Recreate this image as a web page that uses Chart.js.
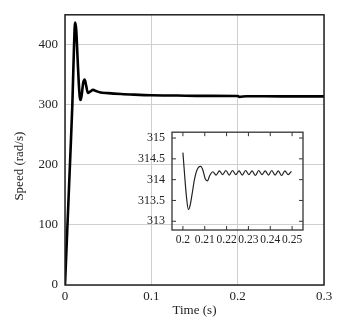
<!DOCTYPE html>
<html>
<head>
<meta charset="utf-8">
<script src="https://cdn.jsdelivr.net/npm/chart.js@4.4.1/dist/chart.umd.min.js"></script>
<style>
  html, body { margin: 0; padding: 0; background: #fff; }
  #wrap { position: relative; width: 349px; height: 322px; }
  #mainChart { position: absolute; left: 0; top: 0; }
  #insetChart { position: absolute; left: 130px; top: 118px; }
</style>
</head>
<body>
<div id="wrap">
  <canvas id="mainChart" width="349" height="322"></canvas>
  <canvas id="insetChart" width="180" height="136"></canvas>
</div>
<script>
// main curve: speed vs time
const timeS = [0, 0.003, 0.006, 0.0085, 0.0105, 0.0117, 0.013, 0.0145, 0.016, 0.0172, 0.0182, 0.0195,
  0.021, 0.0228, 0.0245, 0.0265, 0.029, 0.0325, 0.036, 0.04, 0.05, 0.065, 0.08, 0.1, 0.13, 0.16,
  0.199, 0.2, 0.202, 0.21, 0.25, 0.3];
const speed = [0, 105, 210, 300, 400, 437, 425, 380, 335, 312, 308, 318,
  336, 342, 332, 320, 322, 325, 323, 321, 319.5, 318, 317, 316, 315.5, 315,
  314.8, 314.6, 313.3, 314.3, 314.2, 314.2];

// zoomed inset 0.2 .. 0.25 s
const insetTime = [0.2, 0.2008, 0.2016, 0.2025, 0.2033, 0.2042, 0.2052, 0.2062, 0.2072, 0.2082,
  0.2092, 0.2102, 0.2112, 0.2123, 0.2137, 0.2152, 0.2167, 0.2182, 0.2197, 0.2212, 0.2227,
  0.2242, 0.2257, 0.2272, 0.2287, 0.2302, 0.2317, 0.2332, 0.2347, 0.2362, 0.2377, 0.2392,
  0.2407, 0.2422, 0.2437, 0.2452, 0.2467, 0.2482, 0.2497];
const insetSpeed = [314.65, 314.1, 313.6, 313.28, 313.38, 313.65, 313.98, 314.2, 314.3, 314.32,
  314.22, 314.02, 313.97, 314.1, 314.19, 314.11, 314.21, 314.12, 314.22, 314.11, 314.22,
  314.12, 314.21, 314.11, 314.22, 314.12, 314.21, 314.10, 314.22, 314.12, 314.21, 314.11,
  314.22, 314.11, 314.21, 314.10, 314.21, 314.12, 314.2];

// tick labels
const xTicks = [0, 0.1, 0.2, 0.3];
const yTicks = [0, 100, 200, 300, 400];
const insetXTicks = [0.2, 0.21, 0.22, 0.23, 0.24, 0.25];
const insetYTicks = [313, 313.5, 314, 314.5, 315];

const serif = 'Liberation Serif';

const toPoints = (xs, ys) => xs.map((x, i) => ({ x: x, y: ys[i] }));
const setTicks = vals => s => { s.ticks = vals.map(v => ({ value: v })); };

// frame round the plot area
const framePlugin = {
  id: 'frame',
  afterDraw(chart, args, opts) {
    const a = chart.chartArea, ctx = chart.ctx;
    ctx.save();
    ctx.strokeStyle = opts.color;
    ctx.lineWidth = opts.width;
    ctx.strokeRect(a.left, a.top, a.right - a.left, a.bottom - a.top);
    if (opts.tickLen) {
      // inward ticks on all four sides
      const xs = chart.scales.x, ys = chart.scales.y, t = opts.tickLen;
      ctx.lineWidth = 1;
      ctx.beginPath();
      xs.ticks.forEach(tk => {
        const px = xs.getPixelForValue(tk.value);
        ctx.moveTo(px, a.bottom); ctx.lineTo(px, a.bottom - t);
        ctx.moveTo(px, a.top); ctx.lineTo(px, a.top + t);
      });
      ys.ticks.forEach(tk => {
        const py = ys.getPixelForValue(tk.value);
        ctx.moveTo(a.left, py); ctx.lineTo(a.left + t, py);
        ctx.moveTo(a.right, py); ctx.lineTo(a.right - t, py);
      });
      ctx.stroke();
    }
    ctx.restore();
  }
};

new Chart(document.getElementById('mainChart'), {
  type: 'line',
  data: {
    datasets: [{
      data: toPoints(timeS, speed),
      borderColor: '#000',
      borderWidth: 2.6,
      pointRadius: 0,
      cubicInterpolationMode: 'monotone'
    }]
  },
  options: {
    responsive: false,
    animation: false,
    layout: { padding: { top: 12, right: 25, left: 0, bottom: 0 } },
    plugins: {
      legend: { display: false },
      tooltip: { enabled: false },
      frame: { color: '#222', width: 1.5 }
    },
    scales: {
      x: {
        type: 'linear', min: 0, max: 0.3,
        afterBuildTicks: setTicks(xTicks),
        afterFit: s => { s.height = 37; },
        grid: { color: '#cfcfcf', lineWidth: 1, drawTicks: false },
        border: { display: false },
        ticks: { padding: 4, color: '#222', font: { family: serif, size: 13 }, callback: v => String(v), maxRotation: 0 },
        title: { display: true, text: 'Time (s)', color: '#222', font: { family: serif, size: 13 }, padding: { top: 0, bottom: 4 } }
      },
      y: {
        type: 'linear', min: 0, max: 450,
        afterBuildTicks: setTicks(yTicks),
        afterFit: s => { s.width = 65; },
        grid: { color: '#cfcfcf', lineWidth: 1, drawTicks: false },
        border: { display: false },
        ticks: { padding: 7, color: '#222', font: { family: serif, size: 13 }, callback: v => String(v) },
        title: { display: true, text: 'Speed (rad/s)          ', color: '#222', font: { family: serif, size: 13 }, padding: { top: 12, bottom: 0 } }
      }
    }
  },
  plugins: [framePlugin]
});

new Chart(document.getElementById('insetChart'), {
  type: 'line',
  data: {
    datasets: [{
      data: toPoints(insetTime, insetSpeed),
      borderColor: '#222',
      borderWidth: 1.2,
      pointRadius: 0,
      cubicInterpolationMode: 'monotone'
    }]
  },
  options: {
    responsive: false,
    animation: false,
    layout: { padding: { top: 10, right: 7, left: 0, bottom: 0 } },
    plugins: {
      legend: { display: false },
      tooltip: { enabled: false },
      frame: { color: '#333', width: 1.3, tickLen: 4 }
    },
    scales: {
      x: {
        type: 'linear', min: 0.195, max: 0.255,
        afterBuildTicks: setTicks(insetXTicks),
        afterFit: s => { s.height = 24; },
        grid: { display: false, drawTicks: false },
        border: { display: false },
        ticks: { padding: 3, color: '#222', font: { family: serif, size: 11.5 }, callback: v => String(v), maxRotation: 0, autoSkip: false }
      },
      y: {
        type: 'linear', min: 312.79, max: 315.14,
        afterBuildTicks: setTicks(insetYTicks),
        afterFit: s => { s.width = 42; },
        grid: { display: false, drawTicks: false },
        border: { display: false },
        ticks: { padding: 7, color: '#222', font: { family: serif, size: 12 }, callback: v => String(v) }
      }
    }
  },
  plugins: [framePlugin]
});
</script>
</body>
</html>
